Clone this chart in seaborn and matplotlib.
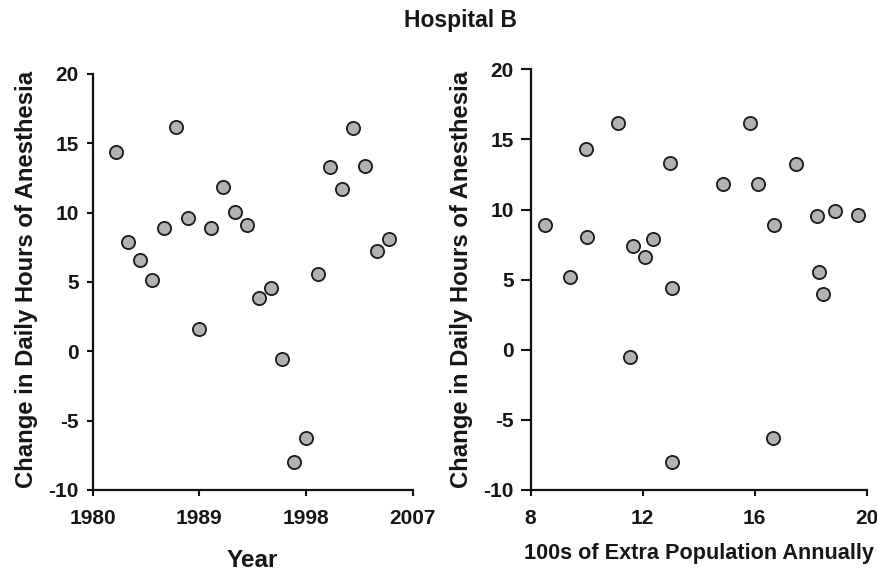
import matplotlib
matplotlib.use("Agg")
import matplotlib.pyplot as plt
import seaborn as sns
import pandas as pd

# Left panel: change vs year
years = [1982, 1983, 1984, 1985, 1986, 1987, 1988, 1989, 1990, 1991, 1992, 1993,
         1994, 1995, 1996, 1997, 1998, 1999, 2000, 2001, 2002, 2003, 2004, 2005]
change_year = [14.35, 7.88, 6.56, 5.14, 8.87, 16.2, 9.64, 1.63, 8.87, 11.83, 10.07, 9.09,
               3.85, 4.59, -0.55, -8.0, -6.27, 5.6, 13.27, 11.73, 16.1, 13.37, 7.24, 8.12]

# Right panel: change vs extra population
population = [8.51, 9.42, 9.98, 10.01, 11.12, 11.56, 11.65, 12.07, 12.36, 12.96, 13.06, 13.06,
              14.87, 15.83, 16.11, 16.67, 16.70, 17.48, 18.24, 18.30, 18.45, 18.86, 19.68]
change_pop = [8.88, 5.22, 14.3, 8.02, 16.15, -0.54, 7.38, 6.59, 7.92, 13.34, 4.43, -8.02,
              11.82, 16.15, 11.82, -6.29, 8.88, 13.23, 9.54, 5.55, 4.0, 9.87, 9.64]

year_ticks = [1980, 1989, 1998, 2007]
pop_ticks = [8, 12, 16, 20]
y_ticks = [-10, -5, 0, 5, 10, 15, 20]

title = "Hospital B"
ylabel = "Change in Daily Hours of Anesthesia"
xlabel_left = "Year"
xlabel_right = "100s of Extra Population Annually"

sns.set_style("ticks")
plt.rcParams['font.family'] = ['Liberation Sans', 'DejaVu Sans']
plt.rcParams['font.weight'] = 'bold'

TXT = "#161616"

fig = plt.figure(figsize=(8.78, 5.73), dpi=100)
ax1 = fig.add_axes([0.1056, 0.1449, 0.3645, 0.726])
ax2 = fig.add_axes([0.6044, 0.1449, 0.3827, 0.734])

df1 = pd.DataFrame({"x": years, "y": change_year})
df2 = pd.DataFrame({"x": population, "y": change_pop})

mk = dict(s=90, color="#b2b2b2", edgecolor="#1a1a1a", linewidth=1.3, zorder=3, clip_on=False)
sns.scatterplot(data=df1, x="x", y="y", ax=ax1, **mk)
sns.scatterplot(data=df2, x="x", y="y", ax=ax2, **mk)

for ax, xt in [(ax1, year_ticks), (ax2, pop_ticks)]:
    ax.set_xlim(xt[0], xt[-1])
    ax.set_ylim(-10, 20)
    ax.set_xticks(xt)
    ax.set_yticks(y_ticks)
    ax.set_xticklabels([str(t) for t in xt], fontsize=15, fontweight='bold', color=TXT)
    ax.set_yticklabels([str(t) for t in y_ticks], fontsize=15, fontweight='bold', color=TXT)
    ax.set_ylabel(ylabel, fontsize=17.2, fontweight='bold', color=TXT)
    for s in ["top", "right"]:
        ax.spines[s].set_visible(False)
    for s in ["left", "bottom"]:
        ax.spines[s].set_linewidth(1.6)
        ax.spines[s].set_color("#111111")
    ax.tick_params(axis='both', direction='out', length=4, width=1.5, color="#111111")
    ax.tick_params(axis='x', pad=10)

ax1.tick_params(axis='y', pad=6)
ax2.tick_params(axis='y', length=7, pad=5)

ax1.set_xlabel(xlabel_left, fontsize=17.5, fontweight='bold', color=TXT)
ax2.set_xlabel(xlabel_right, fontsize=15.6, fontweight='bold', color=TXT)
ax1.xaxis.set_label_coords(0.5, -0.141)
ax2.xaxis.set_label_coords(0.5, -0.126)
ax1.yaxis.set_label_coords(-0.171, 0.506)
ax2.yaxis.set_label_coords(-0.171, 0.5)

fig.text(0.524, 0.965, title, ha='center', va='center', fontsize=16.5, fontweight='bold', color=TXT)

fig.savefig("out.png", dpi=100)
